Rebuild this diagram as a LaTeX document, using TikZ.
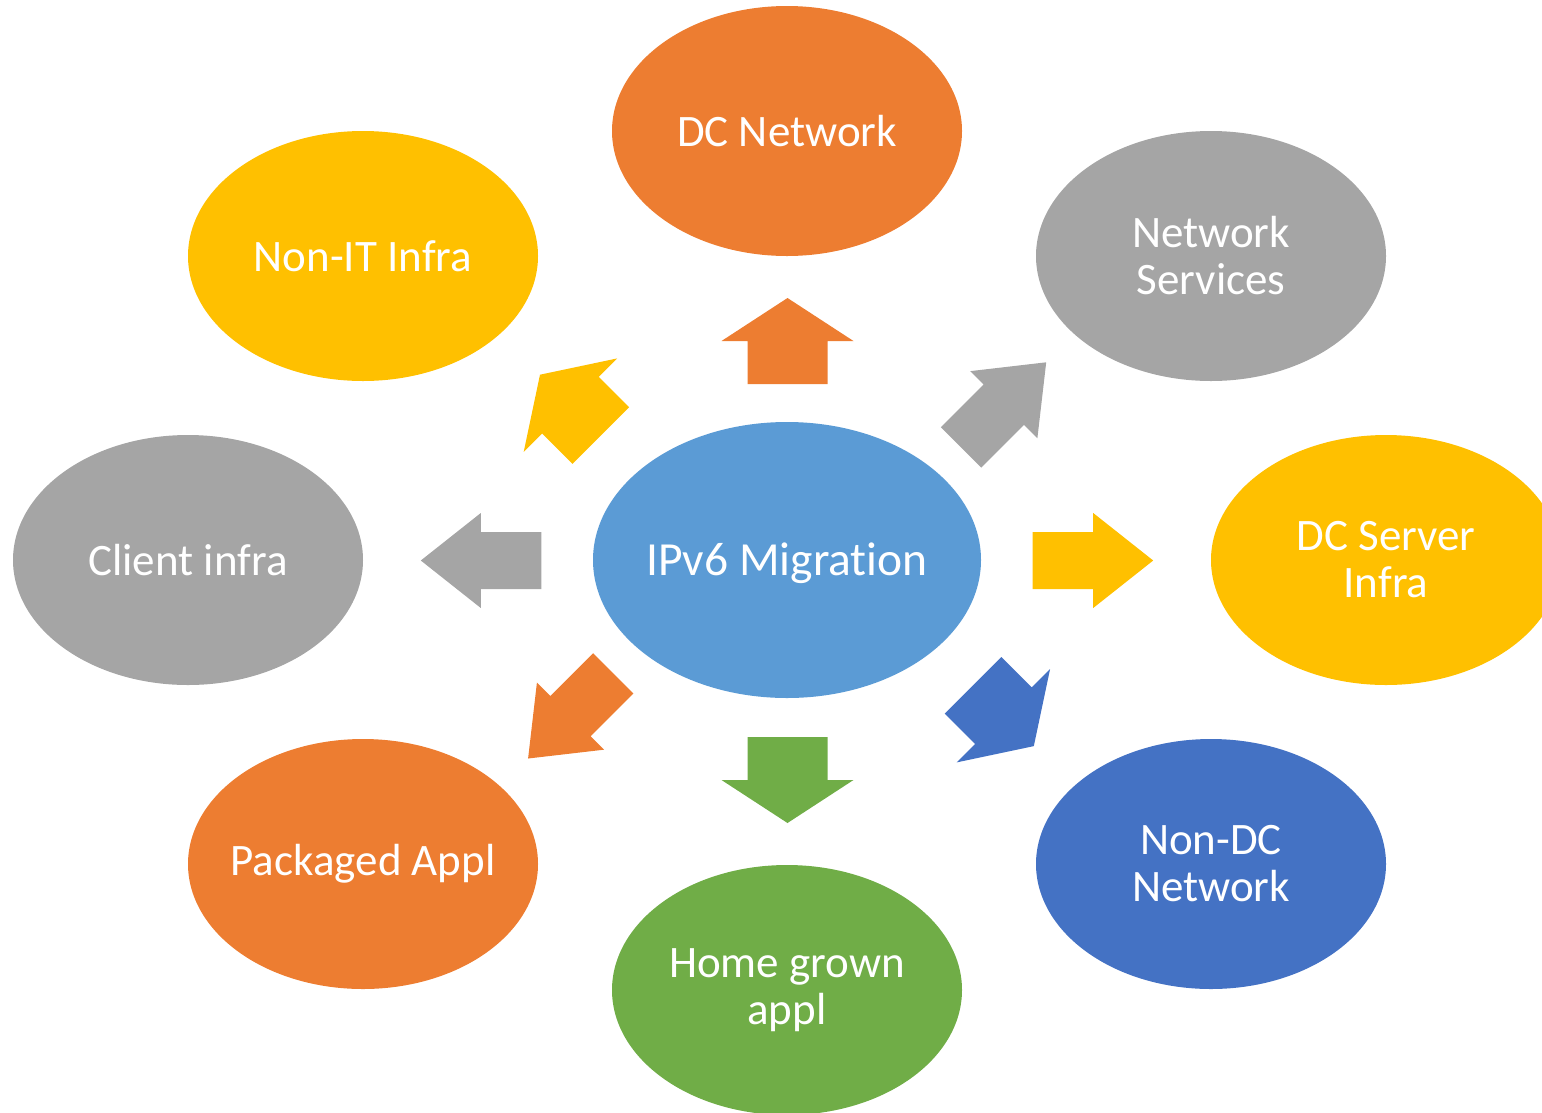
\documentclass[tikz,border=0pt]{standalone}
\usepackage{fontspec}
\setmainfont{Carlito}[Ligatures=NoCommon]
\usetikzlibrary{shapes.geometric}
\definecolor{cOrange}{HTML}{ED7D31}
\definecolor{cYellow}{HTML}{FFC000}
\definecolor{cGray}{HTML}{A5A5A5}
\definecolor{cBlue}{HTML}{5B9BD5}
\definecolor{cNavy}{HTML}{4472C4}
\definecolor{cGreen}{HTML}{70AD47}
\begin{document}
\begin{tikzpicture}[x=1pt,y=-1pt,
  bubble/.style={ellipse, minimum width=350pt, minimum height=250pt, inner sep=0pt, draw=none},
  hub/.style={bubble, minimum width=388pt, minimum height=276pt},
  txt/.style={text=white, align=center, inner sep=0pt, font=\fontsize{45}{47}\selectfont},
  hubtxt/.style={txt, font=\fontsize{47.5}{50}\selectfont},
  pics/fatarrow/.style={code={\fill[#1] (0pt,-40pt) -- (43pt,-40pt) -- (43pt,-66pt) -- (86pt,0pt) -- (43pt,66pt) -- (43pt,40pt) -- (0pt,40pt) -- cycle;}},
  pics/slimarrow/.style={code={\fill[#1] (0pt,-28.5pt) -- (60.5pt,-28.5pt) -- (60.5pt,-47.5pt) -- (120.5pt,0pt) -- (60.5pt,47.5pt) -- (60.5pt,28.5pt) -- (0pt,28.5pt) -- cycle;}}]
\useasboundingbox (0,0) rectangle (1542,1112);
\clip (0,0) rectangle (1542,1112);
% bubbles
\node[hub, fill=cBlue] (hub) at (787,560) {};
\node[bubble, fill=cOrange] (dcnet) at (787,131) {};
\node[bubble, fill=cYellow] (nonit) at (363,256) {};
\node[bubble, fill=cGray] (netsvc) at (1211,256) {};
\node[bubble, fill=cGray] (client) at (188,560) {};
\node[bubble, fill=cYellow] (dcsrv) at (1386,560) {};
\node[bubble, fill=cOrange] (pkg) at (363,864) {};
\node[bubble, fill=cGreen] (home) at (787,990) {};
\node[bubble, fill=cNavy] (nondc) at (1211,864) {};
% labels
\node[hubtxt] (hubT) at ([yshift=-3pt]hub.center) {IPv6 Migration};
\node[txt] (dcnetT) at (dcnet) {DC Network};
\node[txt] (nonitT) at (nonit) {Non-IT Infra};
\node[txt] (netsvcT) at (netsvc) {Network\\Services};
\node[txt] (clientT) at (client) {Client infra};
\node[txt] (dcsrvT) at (dcsrv) {DC Server\\Infra};
\node[txt] (pkgT) at (pkg) {Packaged Appl};
\node[txt] (homeT) at (home) {Home grown\\appl};
\node[txt] (nondcT) at (nondc) {Non-DC\\Network};
% block arrows
\pic[rotate=90] at (787.5,384) {fatarrow=cOrange};
\pic[rotate=-90] at (787.5,737) {fatarrow=cGreen};
\pic[rotate=135] at (600.8,435.5) {fatarrow=cYellow};
\pic[rotate=-45] at (973,685.3) {fatarrow=cNavy};
\pic[rotate=0] at (1032.7,560.5) {slimarrow=cYellow};
\pic[rotate=180] at (541.3,560.5) {slimarrow=cGray};
\pic[rotate=45] at (961,447.5) {slimarrow=cGray};
\pic[rotate=-135] at (613.3,673.3) {slimarrow=cOrange};
\end{tikzpicture}
\end{document}
